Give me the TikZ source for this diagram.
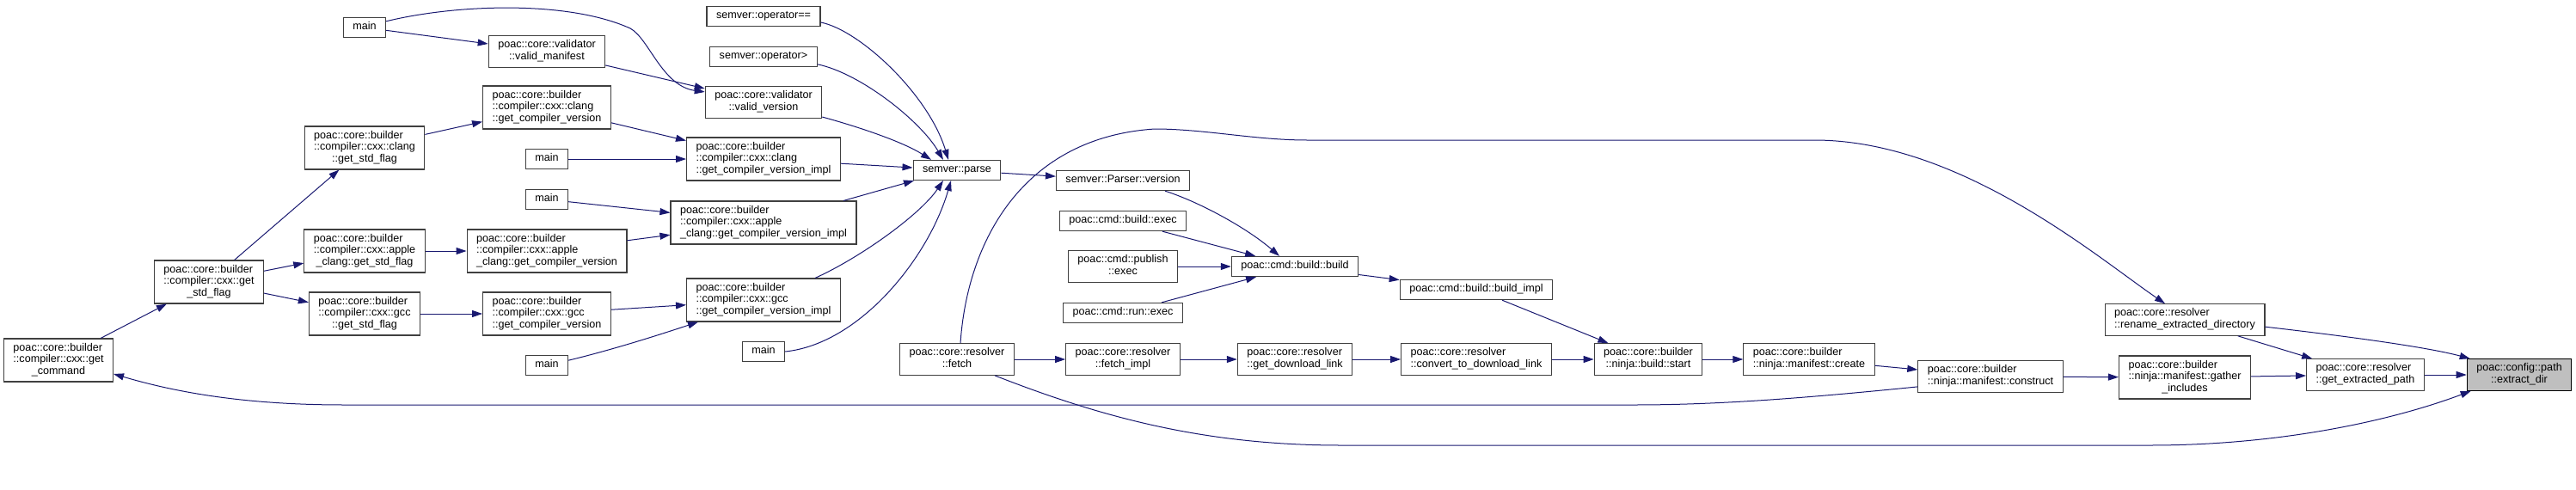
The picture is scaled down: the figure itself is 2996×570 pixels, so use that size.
\documentclass[tikz,border=0pt]{standalone}
\usepackage{fontspec}
\setmainfont{Liberation Sans}
\usetikzlibrary{arrows.meta}
\definecolor{edgeblue}{RGB}{25,25,112}
\definecolor{boxgray}{RGB}{64,64,64}
\definecolor{hlgray}{RGB}{191,191,191}
\newcommand{\twoline}[2]{\begin{tabular}{@{}l@{}}#1\\\multicolumn{1}{@{}c@{}}{#2}\end{tabular}}
\newcommand{\threeline}[3]{\begin{tabular}{@{}l@{}}#1\\#2\\\multicolumn{1}{@{}c@{}}{#3}\end{tabular}}
\tikzset{
  fn/.style={draw=boxgray, fill=white, line width=1.1pt, inner xsep=11pt, inner ysep=4.9pt,
    font=\fontsize{12.6}{13.4}\selectfont\strut},
  fnhl/.style={fn, draw=black, fill=hlgray},
  call/.style={draw=edgeblue, line width=1pt, -{Triangle[length=12pt,width=8pt]}, fill=none}
}
\begin{document}
\begin{tikzpicture}[x=1pt,y=-1pt]
\useasboundingbox (0,0) rectangle (2996,570);
% callers, left part
\node[fn] (getcmd) at (68,419) {\threeline{poac::core::builder}{::compiler::cxx::get}{\_command}};
\node[fn] (stdflag) at (243,328) {\threeline{poac::core::builder}{::compiler::cxx::get}{\_std\_flag}};
\node[fn] (mainA) at (424,32) {main};
\node[fn] (clangflag) at (424,172) {\threeline{poac::core::builder}{::compiler::cxx::clang}{::get\_std\_flag}};
\node[fn] (appleflag) at (424,292) {\threeline{poac::core::builder}{::compiler::cxx::apple}{\_clang::get\_std\_flag}};
\node[fn] (gccflag) at (424,365) {\threeline{poac::core::builder}{::compiler::cxx::gcc}{::get\_std\_flag}};
\node[fn] (validman) at (636,60) {\twoline{poac::core::validator}{::valid\_manifest}};
\node[fn] (clangver) at (636,125) {\threeline{poac::core::builder}{::compiler::cxx::clang}{::get\_compiler\_version}};
\node[fn] (mainB) at (636,185) {main};
\node[fn] (mainC) at (636,232) {main};
\node[fn] (applever) at (636,292) {\threeline{poac::core::builder}{::compiler::cxx::apple}{\_clang::get\_compiler\_version}};
\node[fn] (gccver) at (636,365) {\threeline{poac::core::builder}{::compiler::cxx::gcc}{::get\_compiler\_version}};
\node[fn] (mainD) at (636,425) {main};
\node[fn] (opeq) at (888,19) {semver::operator==};
\node[fn] (opgt) at (888,66) {semver::operator>};
\node[fn] (validver) at (888,119) {\twoline{poac::core::validator}{::valid\_version}};
\node[fn] (clangimpl) at (888,185) {\threeline{poac::core::builder}{::compiler::cxx::clang}{::get\_compiler\_version\_impl}};
\node[fn] (appleimpl) at (888,259) {\threeline{poac::core::builder}{::compiler::cxx::apple}{\_clang::get\_compiler\_version\_impl}};
\node[fn] (gccimpl) at (888,349) {\threeline{poac::core::builder}{::compiler::cxx::gcc}{::get\_compiler\_version\_impl}};
\node[fn] (mainE) at (888,409) {main};
% middle part
\node[fn] (parse) at (1113,198) {semver::parse};
\node[fn] (fetch) at (1113,418) {\twoline{poac::core::resolver}{::fetch}};
\node[fn] (parserver) at (1306,210) {semver::Parser::version};
\node[fn] (buildexec) at (1306,257) {poac::cmd::build::exec};
\node[fn] (pubexec) at (1306,310) {\twoline{poac::cmd::publish}{::exec}};
\node[fn] (runexec) at (1306,364) {poac::cmd::run::exec};
\node[fn] (fetchimpl) at (1306,418) {\twoline{poac::core::resolver}{::fetch\_impl}};
\node[fn] (build) at (1506,310) {poac::cmd::build::build};
\node[fn] (dllink) at (1506,418) {\twoline{poac::core::resolver}{::get\_download\_link}};
\node[fn] (buildimpl) at (1717,337) {poac::cmd::build::build\_impl};
\node[fn] (convlink) at (1717,418) {\twoline{poac::core::resolver}{::convert\_to\_download\_link}};
\node[fn] (start) at (1917,418) {\twoline{poac::core::builder}{::ninja::build::start}};
% right part
\node[fn] (create) at (2104,418) {\twoline{poac::core::builder}{::ninja::manifest::create}};
\node[fn] (construct) at (2315,438) {\twoline{poac::core::builder}{::ninja::manifest::construct}};
\node[fn] (rename) at (2541,372) {\twoline{poac::core::resolver}{::rename\_extracted\_directory}};
\node[fn] (gather) at (2541,439) {\threeline{poac::core::builder}{::ninja::manifest::gather}{\_includes}};
\node[fn] (extpath) at (2751,436) {\twoline{poac::core::resolver}{::get\_extracted\_path}};
\node[fnhl] (extdir) at (2930,436) {\twoline{poac::config::path}{::extract\_dir}};
% calls
\draw[call] (getcmd) -- (stdflag);
\draw[call] (stdflag) -- (clangflag);
\draw[call] (stdflag) -- (appleflag);
\draw[call] (stdflag) -- (gccflag);
\draw[call] (clangflag) -- (clangver);
\draw[call] (appleflag) -- (applever);
\draw[call] (gccflag) -- (gccver);
\draw[call] (mainA) -- (validman);
\draw[call] (mainA.16) .. controls (530,5) and (660,0) .. (733,33) .. controls (755,45) and (770,100) .. (validver.170);
\draw[call] (validman) -- (validver);
\draw[call] (clangver) -- (clangimpl);
\draw[call] (mainB) -- (clangimpl);
\draw[call] (mainC) -- (appleimpl);
\draw[call] (applever) -- (appleimpl);
\draw[call] (gccver) -- (gccimpl);
\draw[call] (mainD.13) .. controls (720,405) and (780,385) .. ([xshift=-76pt]gccimpl.south);
\draw[call] (opeq.-6) .. controls (1000,35) and (1080,110) .. ([xshift=-10pt]parse.north);
\draw[call] (opgt.-8) .. controls (1000,85) and (1070,140) .. ([xshift=-16pt]parse.north);
\draw[call] (validver.-14) .. controls (1000,148) and (1050,165) .. ([xshift=-30pt]parse.north);
\draw[call] (clangimpl) -- (parse);
\draw[call] ([xshift=93pt]appleimpl.north) -- ([xshift=-50pt]parse.south);
\draw[call] ([xshift=60pt]gccimpl.north) .. controls (1000,300) and (1070,250) .. ([xshift=-16pt]parse.south);
\draw[call] (mainE.east) .. controls (1000,400) and (1080,300) .. ([xshift=-7pt]parse.south);
\draw[call] (parse) -- (parserver);
\draw[call] ([xshift=49pt]parserver.south) .. controls (1395,235) and (1450,265) .. ([xshift=-18pt]build.north);
\draw[call] (buildexec) -- (build);
\draw[call] (pubexec) -- (build);
\draw[call] (runexec) -- (build);
\draw[call] (build) -- (buildimpl);
\draw[call] (buildimpl) -- (start);
\draw[call] (fetch) -- (fetchimpl);
\draw[call] (fetchimpl) -- (dllink);
\draw[call] (dllink) -- (convlink);
\draw[call] (convlink) -- (start);
\draw[call] (start) -- (create);
\draw[call] (create) -- (construct);
\draw[call] (construct) -- (gather);
\draw[call] (construct.188) .. controls (2100,463) and (2000,471) .. (1900,471) -- (400,471) .. controls (280,471) and (200,455) .. (getcmd.-14);
\draw[call] ([xshift=4pt]fetch.north) .. controls (1125,280) and (1190,160) .. (1343,150) .. controls (1400,150) and (1460,163) .. (1520,163) -- (2110,163) .. controls (2280,163) and (2440,300) .. ([xshift=-23pt]rename.north);
\draw[call] ([xshift=44pt]fetch.south) .. controls (1280,485) and (1400,518) .. (1560,518) -- (2500,518) .. controls (2650,518) and (2780,490) .. ([xshift=5pt]extdir.south west);
\draw[call] (rename) -- (extpath);
\draw[call] (rename.-5) .. controls (2720,390) and (2820,403) .. ([xshift=4pt]extdir.north west);
\draw[call] (gather) -- (extpath);
\draw[call] (extpath) -- (extdir);
\end{tikzpicture}
\end{document}
